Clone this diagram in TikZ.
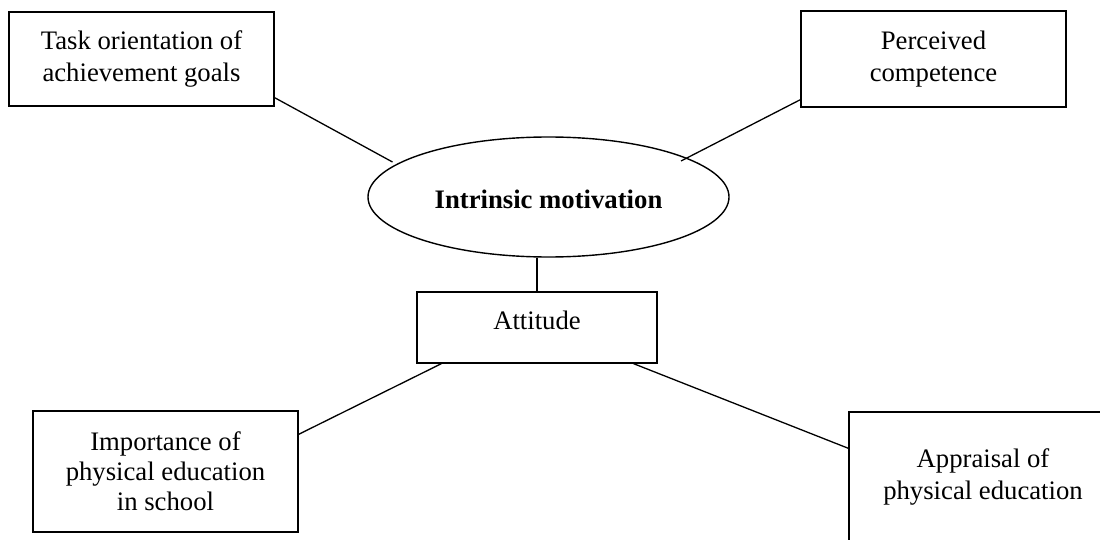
\documentclass[tikz,border=0pt]{standalone}
\usepackage{fontspec}
\setmainfont{Liberation Serif}
\usetikzlibrary{shapes.geometric,calc}
\begin{document}
\begin{tikzpicture}[x=1pt,y=-1pt,
  box/.style={draw,line width=1.4pt,inner sep=0pt,align=center,font=\fontsize{26.7}{32}\selectfont},
  conn/.style={line width=1.3pt}]
\clip (0,0) rectangle (1100,540);
\node[box,minimum width=265pt,minimum height=94pt] (tl) at (141.5,59) {Task orientation of\\achievement goals};
\node[box,minimum width=265pt,minimum height=96pt] (tr) at (933.5,59) {Perceived\\competence};
\node[box,ellipse,minimum width=361pt,minimum height=120pt,text height=24pt,text depth=0pt,font=\fontsize{26.7}{32}\selectfont\bfseries] (im) at (548.5,197) {Intrinsic motivation};
\node[box,minimum width=240pt,minimum height=71pt,text height=17pt,text depth=14pt] (at) at (537,327.5) {Attitude};
\node[box,minimum width=265pt,minimum height=121pt,font=\fontsize{26.7}{30}\selectfont] (bl) at (165.5,471.5) {Importance of\\physical education\\in school};
\node[box,minimum width=268pt,minimum height=129pt] (br) at (983,476.5) {Appraisal of\\physical education};
\draw[conn] ($(tl.south east)+(0,-9)$) -- ($(im.center)+(-156,-35)$);
\draw[conn] ($(tr.south west)+(0,-8)$) -- ($(im.center)+(132.5,-36)$);
\draw[conn] (at.north |- im.south) -- (at.north);
\draw[conn] ($(at.south west)+(25,0)$) -- ($(bl.north east)+(0,24)$);
\draw[conn] ($(at.south east)+(-24,0)$) -- ($(br.north west)+(0,37)$);
\end{tikzpicture}
\end{document}
